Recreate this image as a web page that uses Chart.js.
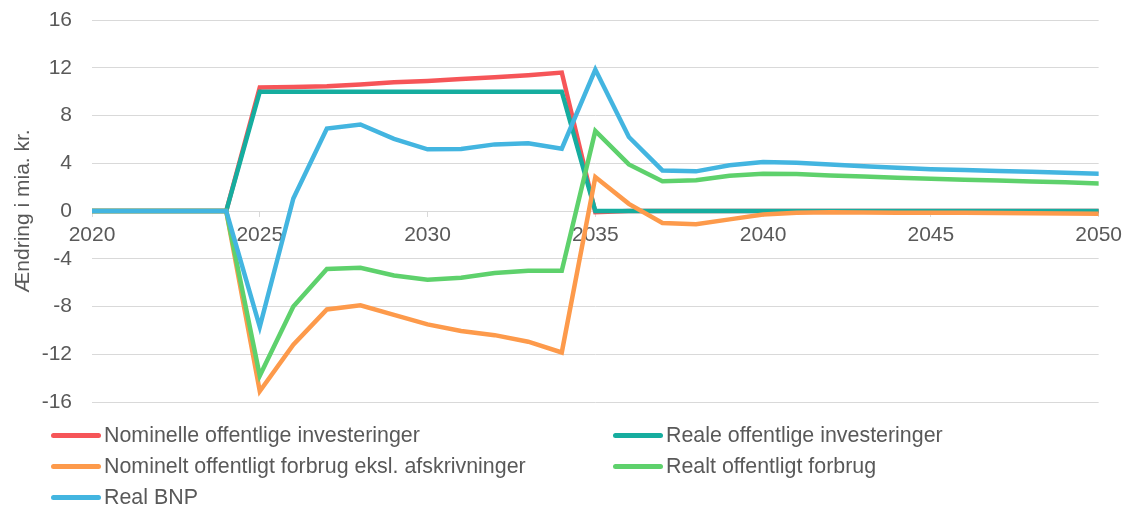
<!DOCTYPE html>
<html lang="da">
<head>
  <meta charset="UTF-8" />
  <title>Ændring i offentlige investeringer og forbrug</title>
  <style>
    body { margin: 0; background: #fff; font-family: "Liberation Sans", Arial, sans-serif; }
    .wrap { position: relative; width: 1129px; height: 509px; }
    #chart { position: absolute; left: 0; top: 0; }
    .legend { position: absolute; left: 51px; top: 423px; display: grid; grid-template-columns: 562px 480px; row-gap: 7px; }
    .legend div { display: flex; align-items: center; height: 24px; font-size: 21.4px; color: #595959; white-space: nowrap; }
    .legend i { display: inline-block; width: 50px; height: 5px; border-radius: 3px; margin-right: 3px; }
  </style>
</head>
<body>
  <div class="wrap">
    <canvas id="chart" width="1129" height="424"></canvas>
    <div class="legend" id="legend"></div>
  </div>

  <script src="https://cdn.jsdelivr.net/npm/chart.js@4.4.1/dist/chart.umd.min.js"></script>
  <script>
    const years = [];
    for (let y = 2020; y <= 2050; y++) years.push(y);

    const labels = [
      'Nominelle offentlige investeringer',
      'Reale offentlige investeringer',
      'Nominelt offentligt forbrug eksl. afskrivninger',
      'Realt offentligt forbrug',
      'Real BNP'
    ];
    const colors = ['#f65558', '#16ad9f', '#fd9a4b', '#5ed16c', '#43b5e0'];

    // 2020 ... 2050
    const nomInv = [0, 0, 0, 0, 0, 10.35, 10.38, 10.45, 10.6, 10.78, 10.9, 11.05, 11.2, 11.38, 11.6,
      -0.1, 0, 0, 0, 0, 0, 0, 0, 0, 0, 0, 0, 0, 0, 0, 0];
    const realInv = [0, 0, 0, 0, 0, 10, 10, 10, 10, 10, 10, 10, 10, 10, 10,
      0, 0, 0, 0, 0, 0, 0, 0, 0, 0, 0, 0, 0, 0, 0, 0];
    const nomForbrug = [0, 0, 0, 0, 0, -15.1, -11.2, -8.25, -7.9, -8.7, -9.5, -10.05, -10.4, -10.95, -11.85,
      2.85, 0.6, -1.0, -1.1, -0.7, -0.3, -0.15, -0.1, -0.12, -0.15, -0.15, -0.15, -0.17, -0.18, -0.2, -0.22];
    const realForbrug = [0, 0, 0, 0, 0, -13.8, -8.0, -4.85, -4.75, -5.4, -5.75, -5.6, -5.2, -5.0, -5.0,
      6.7, 3.9, 2.5, 2.58, 2.95, 3.12, 3.1, 2.98, 2.88, 2.78, 2.7, 2.62, 2.55, 2.48, 2.4, 2.3];
    const realBnp = [0, 0, 0, 0, 0, -9.7, 1.05, 6.9, 7.25, 6.05, 5.17, 5.2, 5.58, 5.67, 5.22,
      11.85, 6.2, 3.4, 3.32, 3.83, 4.1, 4.05, 3.9, 3.75, 3.62, 3.5, 3.43, 3.35, 3.28, 3.2, 3.12];

    const series = [nomInv, realInv, nomForbrug, realForbrug, realBnp];
    const yTicks = [-16, -12, -8, -4, 0, 4, 8, 12, 16];

    const textColor = '#595959';
    const font = { family: '"Liberation Sans", Arial, sans-serif', size: 21 };

    new Chart(document.getElementById('chart'), {
      type: 'line',
      data: {
        datasets: series.map((vals, i) => ({
          label: labels[i],
          data: vals.map((v, j) => ({ x: years[j], y: v })),
          borderColor: colors[i],
          backgroundColor: colors[i],
          borderWidth: 4.5,
          borderCapStyle: 'round',
          pointRadius: 0,
          tension: 0,
          order: series.length - i   // later series on top
        }))
      },
      options: {
        responsive: false,
        animation: false,
        layout: { padding: { top: 20, right: 29, bottom: 22, left: 0 } },
        plugins: { legend: { display: false }, tooltip: { enabled: false } },
        scales: {
          x: {
            type: 'linear',
            position: { y: 0 },
            min: 2020,
            max: 2050,
            grid: { drawOnChartArea: false, drawTicks: true, tickLength: 5, color: '#d9d9d9' },
            border: { display: true, color: '#d9d9d9' },
            ticks: { stepSize: 5, color: textColor, font: font, padding: 7, maxRotation: 0,
              callback: v => String(v) }
          },
          y: {
            min: -16,
            max: 16,
            afterFit: s => { s.width = 92; },
            // invisible tick marks keep the labels away from the grid
            grid: {
              drawTicks: true,
              tickLength: 20,
              tickColor: 'transparent',
              color: c => yTicks.includes(c.tick.value) ? '#d9d9d9' : '#ececec'
            },
            border: { display: false },
            ticks: { stepSize: 2, color: textColor, font: font, padding: 0,
              callback: v => yTicks.includes(v) ? String(v) : '' },
            title: { display: true, text: 'Ændring i mia. kr.', color: textColor, font: font,
              padding: { top: 11, bottom: 0 } }
          }
        }
      }
    });

    // legend in two columns
    const legend = document.getElementById('legend');
    labels.forEach((l, i) => {
      const d = document.createElement('div');
      d.innerHTML = `<i style="background:${colors[i]}"></i>${l}`;
      legend.appendChild(d);
    });
  </script>
</body>
</html>
